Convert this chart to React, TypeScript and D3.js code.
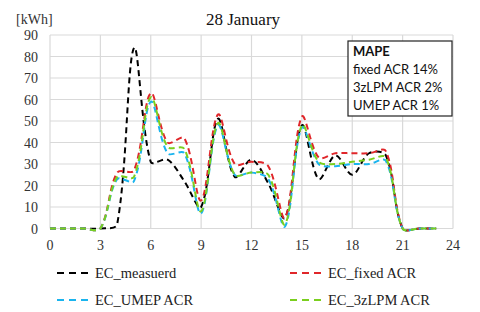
import React from "react";
import * as d3 from "d3";

const hours = d3.range(0, 24);
const measured = [0, 0, 0, 0, 2, 84, 31, 32, 22, 10, 51, 24, 32, 21, 5, 48, 23, 34, 25, 35, 34, 0, 0, 0];
const fixedACR = [0, 0, 0, 0, 26, 27, 63, 40, 42, 13, 53, 30, 31, 29, 5, 52, 33, 35, 35, 35, 36, 0, 0, 0];
const umepACR = [0, 0, 0, 0, 23, 22, 59, 35, 35, 7, 48, 25, 26, 23, 1, 47, 30, 29, 30, 30, 31.5, 0, 0, 0];
const lpmACR = [0, 0, 0, 0, 24, 24, 61, 38, 37, 8, 49, 25, 26, 25, 2, 48, 31, 30, 31, 32, 33, 0, 0, 0];

const xTicks = [0, 3, 6, 9, 12, 15, 18, 21, 24];
const yTicks = [0, 10, 20, 30, 40, 50, 60, 70, 80, 90];
const mapeLines = ["fixed ACR 14%", "3zLPM ACR 2%", "UMEP ACR 1%"];

const series = [
  { name: "EC_measuerd", values: measured, color: "#000000" },
  { name: "EC_fixed ACR", values: fixedACR, color: "#E0262A" },
  { name: "EC_UMEP ACR", values: umepACR, color: "#1AB4EE" },
  { name: "EC_3zLPM ACR", values: lpmACR, color: "#7ACF1E" },
];

const W = 480;
const H = 312;
const left = 50;
const right = 453;
const top = 35;
const bottom = 228.5;

// Spreadsheet-style smoothed line: Bezier segments whose control vectors are
// scaled by the ratio of neighbouring segment lengths.
function smoothCurve(context: any) {
  let pts: [number, number][] = [];
  return {
    areaStart() {},
    areaEnd() {},
    lineStart() {
      pts = [];
    },
    point(x: number, y: number) {
      pts.push([+x, +y]);
    },
    lineEnd() {
      const n = pts.length;
      if (!n) return;
      context.moveTo(pts[0][0], pts[0][1]);
      const dist = (a: number[], b: number[]) => Math.hypot(b[0] - a[0], b[1] - a[1]);
      for (let i = 0; i < n - 1; i++) {
        const p0 = pts[i - 1] || pts[i];
        const p1 = pts[i];
        const p2 = pts[i + 1];
        const p3 = pts[i + 2] || pts[i + 1];
        const d01 = dist(p0, p1);
        const d12 = dist(p1, p2);
        const d23 = dist(p2, p3);
        const f1 = d01 + d12 > 0 ? d12 / (d01 + d12) / 3 : 0;
        const f2 = d12 + d23 > 0 ? d12 / (d12 + d23) / 3 : 0;
        const c1x = p1[0] + (p2[0] - p0[0]) * f1;
        const c1y = p1[1] + (p2[1] - p0[1]) * f1;
        const c2x = p2[0] - (p3[0] - p1[0]) * f2;
        const c2y = p2[1] - (p3[1] - p1[1]) * f2;
        context.bezierCurveTo(c1x, c1y, c2x, c2y, p2[0], p2[1]);
      }
    },
  };
}

export default function App() {
  const x = d3.scaleLinear().domain([0, 24]).range([left, right]);
  const y = d3.scaleLinear().domain([0, 90]).range([bottom, top]);
  const line = d3
    .line<number>()
    .x((_, i) => x(hours[i]))
    .y((d) => y(d))
    .curve(smoothCurve as any);
  const serif = "'Liberation Serif', 'Times New Roman', serif";
  const sans = "Lato, 'Open Sans', sans-serif";
  const legendPos = [
    { lx: 57, ty: 278 },
    { lx: 290, ty: 278 },
    { lx: 57, ty: 305 },
    { lx: 290, ty: 305 },
  ];
  return (
    <svg width={W} height={H} style={{ position: "absolute", left: 0, top: 0, background: "#fff" }}>
      <rect x={0} y={0} width={W} height={H} fill="#fff" />
      <text x={243} y={25} textAnchor="middle" fontFamily={serif} fontSize={17} fill="#111">
        28 January
      </text>
      <text x={16} y={24} fontFamily={serif} fontSize={14} fill="#333">
        [kWh]
      </text>
      {yTicks.map((t) => (
        <g key={"y" + t}>
          <line x1={left} x2={right} y1={y(t)} y2={y(t)} stroke="#d9d9d9" strokeWidth={1.2} />
          <text x={38} y={y(t) + 5} textAnchor="end" fontFamily={serif} fontSize={14} fill="#333">
            {t}
          </text>
        </g>
      ))}
      {xTicks.map((t) => (
        <g key={"x" + t}>
          <line x1={x(t)} x2={x(t)} y1={top} y2={bottom} stroke="#d9d9d9" strokeWidth={1.2} />
          <text x={x(t)} y={250} textAnchor="middle" fontFamily={serif} fontSize={14} fill="#333">
            {t}
          </text>
        </g>
      ))}
      {series.map((s) => (
        <path
          key={s.name}
          d={line(s.values) || ""}
          fill="none"
          stroke={s.color}
          strokeWidth={2}
          strokeDasharray="6,4"
        />
      ))}
      <rect x={348} y={41} width={104} height={75} fill="#fff" stroke="#222" strokeWidth={1.2} />
      <text x={353} y={56} fontFamily={sans} fontSize={13} fontWeight="bold" fill="#111">
        MAPE
      </text>
      {mapeLines.map((m, i) => (
        <text key={m} x={353} y={74 + i * 18} fontFamily={sans} fontSize={13} fill="#111">
          {m}
        </text>
      ))}
      {series.map((s, i) => (
        <g key={"lg" + s.name}>
          <line
            x1={legendPos[i].lx}
            x2={legendPos[i].lx + 34}
            y1={legendPos[i].ty - 5}
            y2={legendPos[i].ty - 5}
            stroke={s.color}
            strokeWidth={2}
            strokeDasharray="7,5"
          />
          <text x={legendPos[i].lx + 38} y={legendPos[i].ty} fontFamily={serif} fontSize={14.5} fill="#222">
            {s.name}
          </text>
        </g>
      ))}
    </svg>
  );
}
